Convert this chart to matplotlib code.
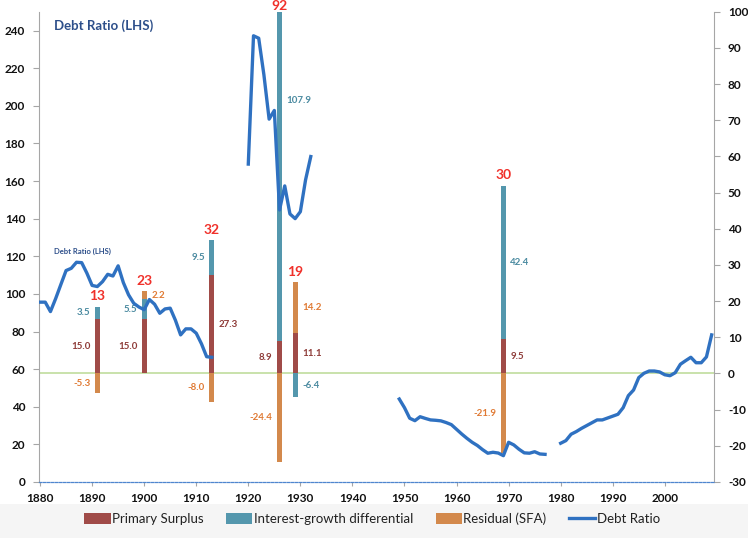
import numpy as np
import matplotlib
matplotlib.use("Agg")
import matplotlib.pyplot as plt
from matplotlib.patches import Patch, Rectangle
from matplotlib.lines import Line2D

plt.rcParams['font.family'] = ['Lato', 'DejaVu Sans']
plt.rcParams['axes.unicode_minus'] = False

# ---- DEBT RATIO (LHS), segments with gaps ----
years_a = list(range(1880, 1914))
debt_a = [95.6, 95.6, 90.6, 97.5, 105.0, 112.4, 113.6, 116.8, 116.6, 111.0,
          104.5, 103.9, 106.5, 110.4, 109.5, 114.9, 106.0, 99.5, 95.0, 93.0,
          91.6, 97.0, 94.5, 89.7, 92.0, 92.4, 86.0, 78.2, 81.4, 81.4,
          79.1, 73.5, 66.6, 66.3]
years_b = list(range(1920, 1933))
debt_b = [169.0, 237.2, 235.9, 216.4, 192.9, 197.5, 144.6, 157.4, 142.5, 140.0,
          143.7, 160.6, 173.0]
years_c = list(range(1949, 1978))
debt_c = [44.1, 39.5, 33.9, 32.6, 34.7, 33.8, 33.0, 32.8, 32.5, 31.6,
          30.5, 28.0, 25.5, 23.2, 21.1, 19.4, 17.2, 15.3, 15.8, 15.4,
          14.0, 21.1, 19.7, 17.4, 15.5, 15.3, 16.1, 14.9, 14.7]
years_d = list(range(1980, 2010))
debt_d = [20.6, 22.0, 25.4, 26.8, 28.5, 30.0, 31.5, 33.0, 33.0, 34.0,
          35.0, 36.0, 39.5, 45.9, 48.9, 55.5, 57.8, 59.0, 59.0, 58.5,
          57.0, 56.5, 58.1, 62.6, 64.5, 66.3, 63.4, 63.4, 66.5, 78.2]

# ---- EPISODE DECOMPOSITION (RHS) ----
episode_years = [1891, 1900, 1913, 1926, 1929, 1969]
primary = [15.0, 15.0, 27.3, 8.9, 11.1, 9.5]
interest = [3.5, 5.5, 9.5, 107.9, -6.4, 42.4]
residual = [-5.3, 2.2, -8.0, -24.4, 14.2, -21.9]
totals = ["13", "23", "32", "92", "19", "30"]

c_primary = "#a04b48"
c_interest = "#5497ad"
c_residual = "#d3894c"
c_line = "#2f71c1"
lbl_primary = "#8e3b38"
lbl_interest = "#4a8aa0"
lbl_residual = "#e07a34"

fig = plt.figure(figsize=(7.48, 5.38), dpi=100)
W, H = 748.0, 538.0
fig.patches.append(Rectangle((0, 0), 1, 34 / H, transform=fig.transFigure,
                             facecolor="#f5f5f5", edgecolor="none", zorder=-10))

ax = fig.add_axes([39 / W, 1 - 482 / H, (714 - 39) / W, (482 - 11.7) / H])
ax2 = ax.twinx()

# line axis on top, bar axis behind
ax.set_zorder(2)
ax.patch.set_visible(False)

x0, x1 = 1879.8, 2009.45
ax.set_xlim(x0, x1)
ax.set_ylim(0, 250)
ax2.set_ylim(-30, 100)

for ys, ds in [(years_a, debt_a), (years_b, debt_b), (years_c, debt_c), (years_d, debt_d)]:
    ax.plot(ys, ds, color=c_line, lw=2.4, solid_joinstyle="round", zorder=5)

ax2.axhline(0, color="#c9e2ab", lw=1.4, zorder=0)

# ---- STACKED BARS ----
bw = 0.95
side = {  # which side of the bar each label sits on
    "p": ["L", "L", "R", "L", "R", "R"],
    "i": ["L", "L", "L", "R", "R", "R"],
    "r": ["L", "R", "L", "L", "R", "L"],
}
for k, yr in enumerate(episode_years):
    pos, neg = 0.0, 0.0
    segs = []
    for key, val, col in [("p", primary[k], c_primary), ("i", interest[k], c_interest),
                          ("r", residual[k], c_residual)]:
        if val >= 0:
            base = pos
            pos += val
        else:
            base = neg
            neg += val
        ax2.bar(yr, val, bottom=base, width=bw, color=col, edgecolor="none", zorder=3)
        segs.append((key, val, base))

    for key, val, base in segs:
        lo, hi = sorted([base, base + val])
        if hi > 100:
            ymid = lo + 0.73 * (100 - lo)
        else:
            ymid = (lo + hi) / 2
        col = {"p": lbl_primary, "i": lbl_interest, "r": lbl_residual}[key]
        s = side[key][k]
        ax2.annotate(f"{val:.1f}", (yr, ymid), xytext=(-5 if s == "L" else 5, 0),
                     textcoords="offset points", ha="right" if s == "L" else "left",
                     va="center", fontsize=7, fontweight="bold", color=col, zorder=6)

    top = min(pos, 100)
    ax2.annotate(totals[k], (yr, top), xytext=(0, 4.5 if pos < 100 else 1.2),
                 textcoords="offset points", ha="center", va="baseline",
                 fontsize=10, fontweight="bold", color="#f0302a",
                 annotation_clip=False)

# ---- AXES STYLING ----
for a in (ax, ax2):
    a.spines["top"].set_visible(False)
ax.spines["right"].set_visible(False)
ax2.spines["left"].set_visible(False)
ax2.spines["bottom"].set_visible(False)
ax.spines["left"].set_color("#a6a6a6")
ax2.spines["right"].set_color("#a6a6a6")
ax.spines["bottom"].set_color("#4f86cf")
ax.spines["bottom"].set_linestyle((0, (2, 1.2)))
ax.spines["bottom"].set_linewidth(0.9)

ax.set_yticks(np.arange(0, 241, 20))
ax2.set_yticks(np.arange(-30, 101, 10))
ax.set_xticks(np.arange(1880, 2001, 10))

ax.tick_params(axis="y", length=4, width=0.8, color="#a6a6a6", pad=6,
               labelsize=8.5, labelcolor="#111111")
ax2.tick_params(axis="y", length=4, width=0.8, color="#a6a6a6", pad=6,
                labelsize=8.5, labelcolor="#111111")
ax.tick_params(axis="x", length=3, width=0.8, color="#a6a6a6", pad=5,
               labelsize=8.5, labelcolor="#111111")
for lab in ax.get_xticklabels() + ax.get_yticklabels() + ax2.get_yticklabels():
    lab.set_fontweight("bold")

# ---- TEXT ----
fig.text(54 / W, 1 - 26 / H, "Debt Ratio (LHS)", fontsize=9.5, fontweight="bold",
         color="#2d4f8a", va="center", ha="left")
fig.text(54 / W, 1 - 251 / H, "Debt Ratio (LHS)", fontsize=5.5, fontweight="bold",
         color="#2d4f8a", va="center", ha="left")

# ---- LEGEND ----
handles = [Patch(facecolor=c_primary, label="Primary Surplus"),
           Patch(facecolor=c_interest, label="Interest-growth differential"),
           Patch(facecolor=c_residual, label="Residual (SFA)"),
           Line2D([], [], color=c_line, lw=2.4, label="Debt Ratio")]
fig.legend(handles=handles, loc="center", bbox_to_anchor=(372 / W, 1 - 519 / H),
           ncol=4, frameon=False, fontsize=9.5, handlelength=2.0, handleheight=0.9,
           handletextpad=0.1, columnspacing=1.7, labelcolor="#222222")

fig.savefig("out.png", dpi=100)
